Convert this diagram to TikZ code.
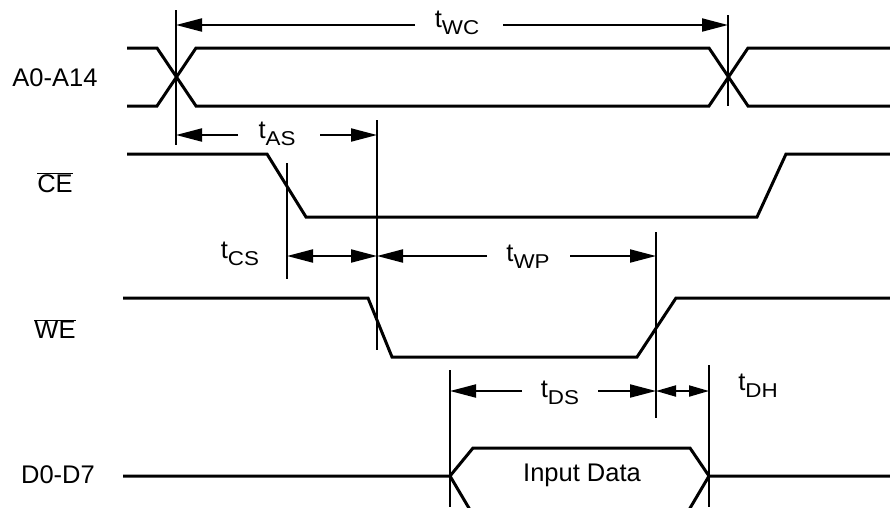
\documentclass[tikz,border=0pt]{standalone}
\usepackage{fontspec}
\setmainfont{Liberation Sans}
\usetikzlibrary{arrows.meta}

\tikzset{
    sig/.style={line width=3pt},
    tick/.style={line width=2pt},
    dimarr/.style={line width=2pt, -{Triangle[length=26pt,width=13pt]}},
    dimboth/.style={line width=2pt, {Triangle[length=26pt,width=13pt]}-{Triangle[length=26pt,width=13pt]}},
    smallboth/.style={line width=2pt, {Triangle[length=20pt,width=11pt]}-{Triangle[length=20pt,width=11pt]}},
    lbl/.style={font=\fontsize{25.5}{28}\selectfont, inner sep=0pt},
    tlbl/.style={font=\fontsize{25.5}{28}\selectfont, inner sep=0pt, anchor=base},
}
\newcommand{\tsub}[1]{t\raisebox{-7pt}{\fontsize{20}{20}\selectfont\scalebox{1.12}[1]{#1}}}

\begin{document}
\begin{tikzpicture}[x=1pt, y=-1pt]
    \clip (0,0) rectangle (890,507);

    % signal names
    \node[lbl] (sa) at (55,78) {A0-A14};
    \node[lbl] (sce) at (55,183) {$\overline{\mbox{CE}}$};
    \node[lbl] (swe) at (55,329) {$\overline{\mbox{WE}}$};
    \node[lbl] (sd) at (58,475) {D0-D7};

    % waveforms
    \draw[sig] (127,48) -- (157,48) -- (196,106) -- (709,106) -- (748,48) -- (890,48);
    \draw[sig] (127,106) -- (157,106) -- (196,48) -- (709,48) -- (748,106) -- (890,106);
    \draw[sig] (127,154) -- (267,154) -- (306,217) -- (757,217) -- (786,154) -- (890,154);
    \draw[sig] (123,298) -- (368,298) -- (392,357) -- (637,357) -- (676,298) -- (890,298);
    \draw[sig] (123,476) -- (450,476) -- (473,448) -- (690,448) -- (709,476) -- (890,476);
    \draw[sig] (450,476) -- (476,520);
    \draw[sig] (709,476) -- (683,520);
    \node[lbl] (din) at (582,475) {Input Data};

    % timing marks
    \coordinate (m1t) at (176,10);   \coordinate (m1b) at (176,145);
    \coordinate (m2t) at (728,15);   \coordinate (m2b) at (728,106);
    \coordinate (m3t) at (377,120);  \coordinate (m3b) at (377,350);
    \coordinate (m4t) at (287,163);  \coordinate (m4b) at (287,279);
    \coordinate (m5t) at (656,232);  \coordinate (m5b) at (656,418);
    \coordinate (m6t) at (450,370);  \coordinate (m6b) at (450,507);
    \coordinate (m7t) at (709,365);  \coordinate (m7b) at (709,507);
    \foreach \m in {1,...,7}
        \draw[tick] (m\m t) -- (m\m b);

    % t_WC
    \node[tlbl] (twc) at (457,27) {\tsub{WC}};
    \coordinate (wc1) at (415,25);  \coordinate (wc2) at (503,25);
    \draw[dimarr] (wc1) -- (m1t |- wc1);
    \draw[dimarr] (wc2) -- (m2t |- wc2);
    % t_AS
    \node[tlbl] (tas) at (277,138) {\tsub{AS}};
    \coordinate (as1) at (238,135);  \coordinate (as2) at (320,135);
    \draw[dimarr] (as1) -- (m1t |- as1);
    \draw[dimarr] (as2) -- (m3t |- as2);
    % t_CS
    \node[tlbl] (tcs) at (240,258) {\tsub{CS}};
    \draw[dimboth] (m4t |- 0,256) -- (m3t |- 0,256);
    % t_WP
    \node[tlbl] (twp) at (528,261) {\tsub{WP}};
    \coordinate (wp1) at (487,256);  \coordinate (wp2) at (570,256);
    \draw[dimarr] (wp1) -- (m3t |- wp1);
    \draw[dimarr] (wp2) -- (m5t |- wp2);
    % t_DS
    \node[tlbl] (tds) at (560,397) {\tsub{DS}};
    \coordinate (ds1) at (522,391);  \coordinate (ds2) at (598,391);
    \draw[dimarr] (ds1) -- (m6t |- ds1);
    \draw[dimarr] (ds2) -- (m5t |- ds2);
    % t_DH
    \node[tlbl] (tdh) at (758,390) {\tsub{DH}};
    \draw[smallboth] (m5t |- 0,391) -- (m7t |- 0,391);
\end{tikzpicture}
\end{document}
